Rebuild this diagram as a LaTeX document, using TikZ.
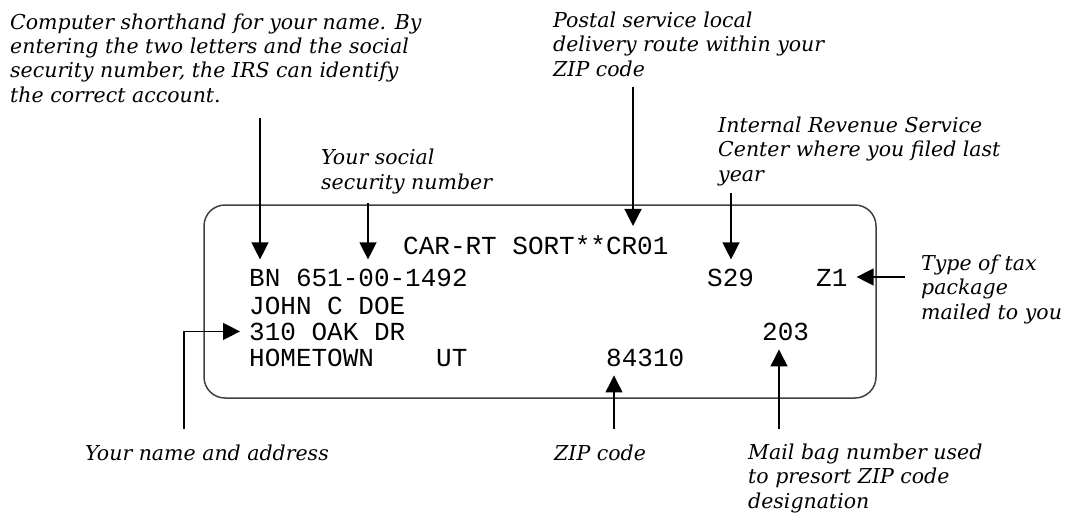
\documentclass[tikz,border=0pt]{standalone}
\usepackage{fontspec}
\usepackage{tikz}
\usetikzlibrary{arrows.meta}
\newfontfamily\notefont{DejaVu Serif}
\newfontfamily\addrfont{Liberation Mono}
\definecolor{boxgray}{HTML}{404040}

\begin{document}
\begin{tikzpicture}[x=1pt,y=-1pt,note/.style={anchor=base west,align=left,inner sep=0pt,font=\notefont\itshape\fontsize{20.5}{24.3}\selectfont},addr/.style={anchor=base west,inner sep=0pt,font=\addrfont\fontsize{26}{30}\selectfont},pointer/.style={-{Triangle[length=17pt,width=17pt]},line width=1.3pt,shorten >=9pt}]
	\useasboundingbox (0,0) rectangle (1065,512);
	\node[draw=boxgray,line width=1.5pt,rounded corners=21pt,minimum width=672pt,minimum height=193pt,inner sep=0pt] (label) at (540,301.5) {};
	\node[addr] (route) at (403,254) {CAR-RT SORT**CR01};
	\node[addr] (ssn) at (249,286) {BN 651-00-1492};
	\node[addr] (center) at (707,286) {S29};
	\node[addr] (pkg) at (816,286) {Z1};
	\node[addr] (name) at (249,314) {JOHN C DOE};
	\node[addr] (street) at (249,340) {310 OAK DR};
	\node[addr] (bag) at (762,340) {203};
	\node[addr] (city) at (249,366) {HOMETOWN};
	\node[addr] (state) at (436,366) {UT};
	\node[addr] (zip) at (606,366) {84310};
	% base of a note is the baseline of its last line
	\node[note] (shorthand) at (10,102) {Computer shorthand for your name. By\\entering the two letters and the social\\security number, the IRS can identify\\the correct account.};
	\node[note] (ssnnote) at (321,189) {Your social\\security number};
	\node[note] (routenote) at (553,76) {Postal service local\\delivery route within your\\ZIP code};
	\node[note] (centernote) at (718,181) {Internal Revenue Service\\Center where you filed last\\year};
	\node[note] (pkgnote) at (921,319) {Type of tax\\package\\mailed to you};
	\node[note] (namenote) at (85,460) {Your name and address};
	\node[note] (zipnote) at (554,460) {ZIP code};
	\node[note] (bagnote) at (748,508) {Mail bag number used\\to presort ZIP code\\designation};
	\coordinate (t1) at (260,118);
	\coordinate (t2) at (368,203);
	\coordinate (t3) at (633,87);
	\coordinate (t4) at (731,193);
	\coordinate (t5) at (905,277);
	\coordinate (t6) at (184,429);
	\coordinate (t7) at (614,429);
	\coordinate (t8) at (779,429);
	\draw[pointer] (t1) -- (t1 |- ssn.north);
	\draw[pointer] (t2) -- (t2 |- ssn.north);
	\draw[pointer] (t3) -- (t3 |- route.north);
	\draw[pointer] (t4) -- (t4 |- center.north);
	\draw[pointer] (t5) -- (t5 -| pkg.east);
	\draw[pointer] (t6) |- (street.west);
	\draw[pointer] (t7) -- (t7 |- zip.south);
	\draw[pointer] (t8) -- (t8 |- bag.south);
\end{tikzpicture}
\end{document}
